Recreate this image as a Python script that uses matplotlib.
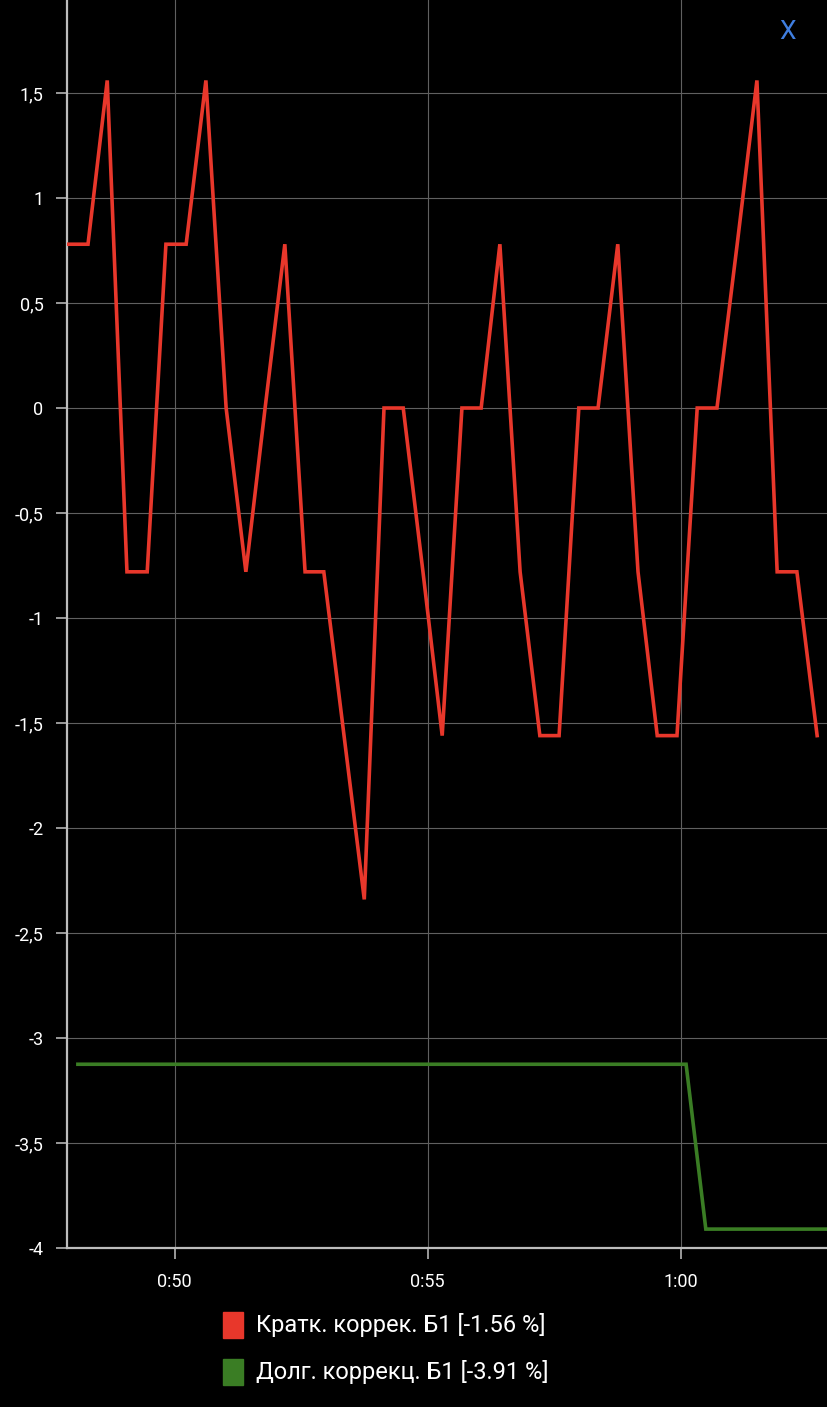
import matplotlib
matplotlib.use("Agg")
import matplotlib.pyplot as plt
from matplotlib.patches import Rectangle

# ---- data ----
short_t = [47.90, 48.29, 48.67, 49.06, 49.46, 49.83, 50.23, 50.62, 51.02, 51.41,
           51.79, 52.18, 52.58, 52.95, 53.35, 53.75, 54.14, 54.52, 54.91, 55.29,
           55.68, 56.06, 56.43, 56.83, 57.22, 57.60, 57.99, 58.37, 58.76, 59.16,
           59.54, 59.93, 60.33, 60.72, 61.12, 61.51, 61.91, 62.30, 62.70]
short_v = [0.78, 0.78, 1.56, -0.78, -0.78, 0.78, 0.78, 1.56, 0.0, -0.78,
           0.0, 0.78, -0.78, -0.78, -1.56, -2.34, 0.0, 0.0, -0.78, -1.56,
           0.0, 0.0, 0.78, -0.78, -1.56, -1.56, 0.0, 0.0, 0.78, -0.78,
           -1.56, -1.56, 0.0, 0.0, 0.78, 1.56, -0.78, -0.78, -1.56]
long_t = [48.09, 60.11, 60.50, 63.20]
long_v = [-3.125, -3.125, -3.91, -3.91]

series_labels = ["Кратк. коррек. Б1 [-1.56 %]", "Долг. коррекц. Б1 [-3.91 %]"]
series_colors = ["#e8372b", "#3a7d24"]

y_ticks = [-4, -3.5, -3, -2.5, -2, -1.5, -1, -0.5, 0, 0.5, 1, 1.5]
x_ticks = [50, 55, 60]
x_tick_labels = ["0:50", "0:55", "1:00"]

W, H = 827, 1407
fig = plt.figure(figsize=(W / 100, H / 100), dpi=100, facecolor="black")
plt.rcParams['font.family'] = ['Roboto', 'DejaVu Sans']

ax_left, ax_right, ax_bottom, ax_top = 67, 827, 1248, 0
ax = fig.add_axes([ax_left / W, (H - ax_bottom) / H,
                   (ax_right - ax_left) / W, (ax_bottom - ax_top) / H])
ax.set_facecolor("black")

ax.plot(short_t, short_v, color=series_colors[0], lw=2.6, solid_joinstyle="miter", zorder=3)
ax.plot(long_t, long_v, color=series_colors[1], lw=2.6, solid_joinstyle="miter", zorder=3)

ax.set_xlim(47.875, 62.895)
ax.set_ylim(-4, 1.943)

ax.set_yticks(y_ticks)
ax.set_yticklabels([("%g" % v).replace(".", ",") for v in y_ticks])
ax.set_xticks(x_ticks)
ax.set_xticklabels(x_tick_labels)

ax.grid(True, color="#606060", lw=0.8)
ax.set_axisbelow(True)

for s in ["top", "right"]:
    ax.spines[s].set_visible(False)
for s in ["left", "bottom"]:
    ax.spines[s].set_color("#bdbdbd")
    ax.spines[s].set_linewidth(1.6)

ax.tick_params(axis="both", colors="#9a9a9a", length=8, width=1.4,
               labelcolor="white", labelsize=13)
ax.tick_params(axis="y", pad=9)
ax.tick_params(axis="x", pad=10)

# legend
leg_y = [1325, 1372]
for lbl, col, yc in zip(series_labels, series_colors, leg_y):
    fig.patches.append(Rectangle((223 / W, (H - yc - 13) / H), 20 / W, 26 / H,
                                 transform=fig.transFigure, color=col))
    fig.text(256 / W, (H - yc) / H, lbl, color="white", fontsize=17,
             ha="left", va="center")

fig.text(787 / W, (H - 32) / H, "X", color="#3f7ee0", fontsize=19,
         ha="center", va="center")

fig.savefig("out.png", dpi=100, facecolor="black")
